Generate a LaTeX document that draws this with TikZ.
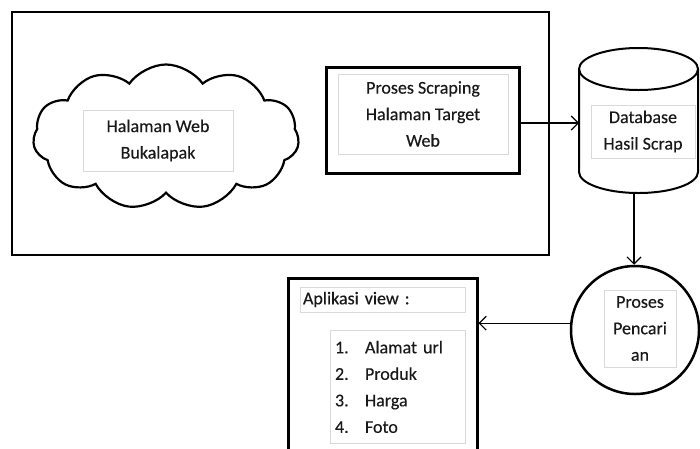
\documentclass[tikz,border=0pt]{standalone}
\usepackage{fontspec}
\setmainfont{Carlito}
\newfontfamily\txtfont{Carlito}[FakeBold=0.35]
\usetikzlibrary{arrows.meta,shapes.symbols}
\begin{document}
\begin{tikzpicture}[x=1pt,y=-1pt,
 txt/.style={font=\txtfont\fontsize{18}{26.5}\selectfont, text=black!90, align=center, draw=black!15, line width=0.8pt, inner sep=0pt},
 frame/.style={draw, line width=2.6pt, inner sep=0pt},
 arr/.style={-{Straight Barb[length=7pt,width=14pt]}, line width=1.1pt}]
\useasboundingbox (0,0) rectangle (700,448);
\clip (0,0) rectangle (700,448);
% outer frame
\node[frame, minimum width=537pt, minimum height=243pt] (outer) at (280.5,133.5) {};
% cloud
\node[cloud, draw, line width=2.2pt, cloud puffs=11, cloud puff arc=110, aspect=1.85, minimum width=266pt, minimum height=145pt] (cloud) at (166,137) {};
\node[txt, minimum width=150pt, minimum height=61pt] (hw) at (158,140.5) {Halaman Web\\Bukalapak};
% scraping
\node[frame, line width=3pt, minimum width=193pt, minimum height=106pt] (sc) at (422.5,120) {};
\node[txt, minimum width=170pt, minimum height=80pt] (sct) at (423,114) {Proses Scraping\\Halaman Target\\Web};
% database cylinder
\draw[line width=2pt] (579,69) -- (579,172) arc[start angle=180, end angle=360, x radius=59.5pt, y radius=21pt] -- (698,69);
\draw[line width=2pt] (638.5,69) ellipse [x radius=59.5pt, y radius=21pt];
\node[txt, minimum width=104pt, minimum height=53pt] (db) at (643,131.5) {Database\\Hasil Scrap};
\coordinate (dbw) at (579,123);
\coordinate (dbb) at (634,193);
% search process
\node[circle, draw, line width=2.5pt, minimum size=128pt, inner sep=0pt] (pc) at (635,330) {};
\node[txt, minimum width=72pt, minimum height=77pt] (pct) at (640,328.5) {Proses\\Pencari\\an};
% list box
\node[frame, line width=3pt, minimum width=189pt, minimum height=190pt] (lb) at (382.5,373) {};
\node[txt, align=left, text width=159pt, inner xsep=3pt, minimum height=25pt] (app) at (382.5,299.5) {Aplikasi view :};
\node[txt, align=left, text width=125pt, inner xsep=5pt, inner ysep=1pt, minimum height=113pt, anchor=north] (lst) at (397.5,330)
 {\makebox[30pt][l]{1.}Alamat url\\\makebox[30pt][l]{2.}Produk\\\makebox[30pt][l]{3.}Harga\\\makebox[30pt][l]{4.}Foto};
% connectors
\draw[arr] (sc.east |- dbw) -- (dbw);
\draw[arr] (dbb) -- (dbb |- pc.north);
\draw[arr] (pc.174) -- (pc.174 -| lb.east);
\end{tikzpicture}
\end{document}
